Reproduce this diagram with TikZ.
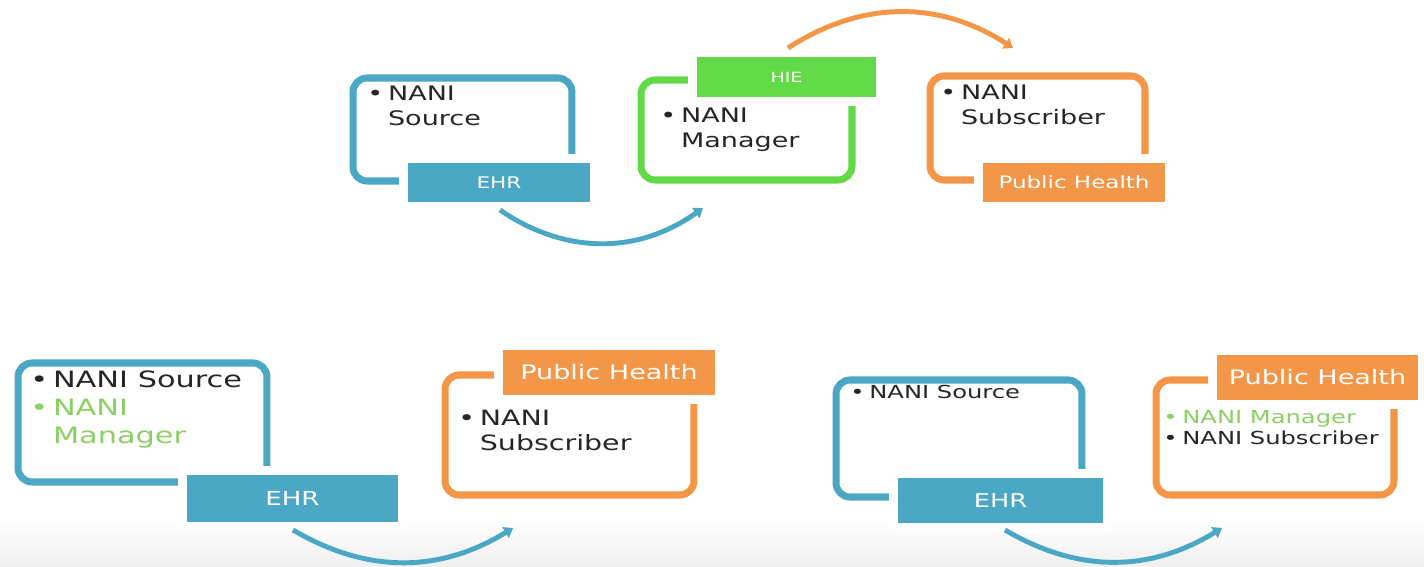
\documentclass[tikz,border=0pt]{standalone}
\usepackage{fontspec}
\setmainfont{DejaVu Sans}
\usepackage{graphicx}
\usetikzlibrary{arrows.meta}
\definecolor{ehrblue}{RGB}{74,168,197}
\definecolor{hsegreen}{RGB}{98,218,72}
\definecolor{phorange}{RGB}{244,150,72}
\definecolor{mgrgreen}{RGB}{140,208,100}
\newcommand{\wide}[1]{\scalebox{1.35}[1]{#1}}
\tikzset{
	boxframe/.style = {draw, line width=4pt, rounded corners=8pt},
	boxtag/.style   = {text=white, inner sep=0pt, preaction={draw=white, line width=0.36cm}},
	boxtext/.style  = {anchor=base west, inner sep=0pt, text=black!85},
	flowarrow/.style = {line width=2.8pt, -{Triangle[length=5pt,width=7pt]}}
}

\begin{document}
\begin{tikzpicture}[x=0.02cm, y=-0.02cm]
	\useasboundingbox (0,0) rectangle (1424,567);
	\shade[top color=white, bottom color=black!6] (0,520) rectangle (1424,567);

	% top row
	\node at (462.5,129.5) [boxframe, draw=ehrblue, minimum width=4.38cm, minimum height=2.06cm] (f1) {};
	\node at (746.5,130) [boxframe, draw=hsegreen, minimum width=4.22cm, minimum height=2.0cm] (f2) {};
	\node at (1037.5,128) [boxframe, draw=phorange, minimum width=4.3cm, minimum height=2.08cm] (f3) {};
	\node at (499,182.5) [boxtag, fill=ehrblue, minimum width=3.64cm, minimum height=0.78cm, font=\fontsize{9.1pt}{11pt}\selectfont] (l1) {\wide{EHR}};
	\node at (786.5,77) [boxtag, fill=hsegreen, minimum width=3.58cm, minimum height=0.8cm, font=\fontsize{8pt}{10pt}\selectfont] (l2) {\wide{HIE}};
	\node at (1074,182.5) [boxtag, fill=phorange, minimum width=3.64cm, minimum height=0.78cm, font=\fontsize{9.7pt}{11pt}\selectfont] (l3) {\wide{Public Health}};
	\node at (367,101) [boxtext, font=\fontsize{11.4pt}{13.7pt}\selectfont] (t1)
		{\wide{\begin{tabular}[t]{@{}l@{\hspace{2pt}}l@{}}•&NANI\\&Source\end{tabular}}};
	\node at (660,123) [boxtext, font=\fontsize{11.4pt}{13.7pt}\selectfont] (t2)
		{\wide{\begin{tabular}[t]{@{}l@{\hspace{2pt}}l@{}}•&NANI\\&Manager\end{tabular}}};
	\node at (940,100) [boxtext, font=\fontsize{11.4pt}{13.7pt}\selectfont] (t3)
		{\wide{\begin{tabular}[t]{@{}l@{\hspace{2pt}}l@{}}•&NANI\\&Subscriber\end{tabular}}};

	% bottom row
	\node at (142.5,422.5) [boxframe, draw=ehrblue, minimum width=4.98cm, minimum height=2.38cm] (f4) {};
	\node at (569.5,435) [boxframe, draw=phorange, minimum width=4.98cm, minimum height=2.4cm] (f5) {};
	\node at (959,438.5) [boxframe, draw=ehrblue, minimum width=4.92cm, minimum height=2.34cm] (f6) {};
	\node at (1275,437.5) [boxframe, draw=phorange, minimum width=4.76cm, minimum height=2.3cm] (f7) {};
	\node at (292.5,498.5) [boxtag, fill=ehrblue, minimum width=4.22cm, minimum height=0.94cm, font=\fontsize{11pt}{13pt}\selectfont] (l4) {\wide{EHR}};
	\node at (609,372.5) [boxtag, fill=phorange, minimum width=4.24cm, minimum height=0.9cm, font=\fontsize{11.4pt}{13pt}\selectfont] (l5) {\wide{Public Health}};
	\node at (1000.5,500.5) [boxtag, fill=ehrblue, minimum width=4.1cm, minimum height=0.9cm, font=\fontsize{10.8pt}{13pt}\selectfont] (l6) {\wide{EHR}};
	\node at (1317.5,377.5) [boxtag, fill=phorange, minimum width=4.02cm, minimum height=0.9cm, font=\fontsize{11.4pt}{13pt}\selectfont] (l7) {\wide{Public Health}};
	\node at (30,388) [boxtext, font=\fontsize{12.8pt}{15.9pt}\selectfont] (t4)
		{\wide{\begin{tabular}[t]{@{}l@{\hspace{2pt}}l@{}}•&NANI Source\\\color{mgrgreen}•&\color{mgrgreen}NANI\\&\color{mgrgreen}Manager\end{tabular}}};
	\node at (458,426) [boxtext, font=\fontsize{12pt}{14.2pt}\selectfont] (t5)
		{\wide{\begin{tabular}[t]{@{}l@{\hspace{2pt}}l@{}}•&NANI\\&Subscriber\end{tabular}}};
	\node at (850,398.5) [boxtext, font=\fontsize{10.2pt}{12pt}\selectfont] (t6)
		{\wide{\begin{tabular}[t]{@{}l@{\hspace{2pt}}l@{}}•&NANI Source\end{tabular}}};
	\node at (1163,424) [boxtext, font=\fontsize{10.2pt}{11.4pt}\selectfont] (t7)
		{\wide{\begin{tabular}[t]{@{}l@{\hspace{2pt}}l@{}}\color{mgrgreen}•&\color{mgrgreen}NANI Manager\\•&NANI Subscriber\end{tabular}}};

	% arrows
	\coordinate (a1) at (500,210);
	\coordinate (a2) at (703,208);
	\coordinate (b1) at (788,48);
	\coordinate (b2) at (1013,48);
	\coordinate (c1) at (293,530);
	\coordinate (c2) at (513,528);
	\coordinate (d1) at (1005,530);
	\coordinate (d2) at (1222,528);
	\draw[flowarrow, ehrblue] (a1) to[bend right=35] (a2);
	\draw[flowarrow, phorange] (b1) to[bend left=33] (b2);
	\draw[flowarrow, ehrblue] (c1) to[bend right=31] (c2);
	\draw[flowarrow, ehrblue] (d1) to[bend right=31] (d2);
\end{tikzpicture}
\end{document}
